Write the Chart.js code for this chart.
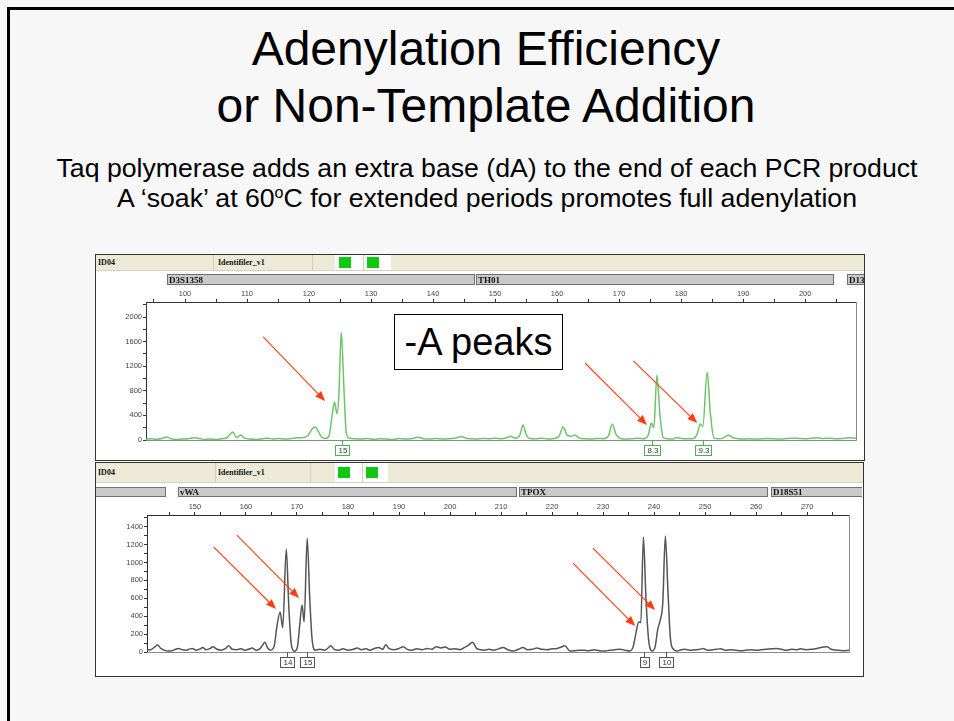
<!DOCTYPE html>
<html>
<head>
<meta charset="utf-8">
<script src="https://cdn.jsdelivr.net/npm/chart.js@4.4.1/dist/chart.umd.min.js"></script>
<style>
  html, body { margin: 0; padding: 0; }
  body { width: 954px; height: 721px; overflow: hidden; background: #f7f7f7; position: relative;
         font-family: "Liberation Sans", Arial, sans-serif; }
  .abs { position: absolute; }
  #frame { left: 7px; top: 7px; width: 1000px; height: 800px; border-left: 3px solid #000; border-top: 3px solid #000; }
  #title { left: 0; width: 972px; top: 20px; text-align: center; font-size: 48px; line-height: 57px; color: #000; }
  #sub { left: 0; width: 974px; top: 153px; text-align: center; font-size: 26.67px; line-height: 30px; color: #000; }
  #sub sup { font-size: 16px; vertical-align: 9px; line-height: 0; }
  .panel { background: #fff; border: 1px solid #333; box-sizing: border-box; }
  .hdr { background: #edebd7; border-bottom: 1px solid #d6d3bd; }
  .cell { position: absolute; top: 0; bottom: 0; border-left: 1px solid #d2cfb8; }
  .hdr .txt { position: absolute; top: 0; bottom: 0; font: bold 8px "Liberation Serif", serif; color: #111; display: flex; align-items: center; }
  .wcell { position: absolute; top: 0; bottom: 0; background: #fff; }
  .sq { position: absolute; background: #10c810; width: 12px; height: 11px; }
  canvas { position: absolute; }
  #apeaks { left: 394px; top: 314px; width: 169px; height: 56px; box-sizing: border-box; border: 1px solid #000;
            background: #fff; font-size: 38px; line-height: 54px; text-align: center; color: #000; }
</style>
</head>
<body>
<div id="frame" class="abs"></div>
<div id="title" class="abs">Adenylation Efficiency<br>or Non-Template Addition</div>
<div id="sub" class="abs">Taq polymerase adds an extra base (dA) to the end of each PCR product<br>A ‘soak’ at 60<sup>o</sup>C for extended periods promotes full adenylation</div>

<div class="abs panel" style="left:95px;top:254px;width:770px;height:207px;"></div>
<div class="abs hdr" style="left:96px;top:255px;width:768px;height:15px;">
  <div class="txt" style="left:2px;">ID04</div>
  <div class="cell" style="left:117px;"></div>
  <div class="txt" style="left:122px;">Identifiler_v1</div>
  <div class="cell" style="left:216px;"></div>
  <div class="wcell" style="left:239px;width:56px;"></div>
  <div class="cell" style="left:267px;"></div>
  <div class="sq" style="left:243px;top:2px;"></div>
  <div class="sq" style="left:271px;top:2px;"></div>
</div>

<div class="abs panel" style="left:95px;top:462px;width:769px;height:215px;"></div>
<div class="abs hdr" style="left:96px;top:463px;width:767px;height:19px;">
  <div class="txt" style="left:2px;">ID04</div>
  <div class="cell" style="left:119px;"></div>
  <div class="txt" style="left:122px;">Identifiler_v1</div>
  <div class="cell" style="left:214px;"></div>
  <div class="wcell" style="left:239px;width:53px;"></div>
  <div class="cell" style="left:266px;"></div>
  <div class="sq" style="left:242px;top:4px;"></div>
  <div class="sq" style="left:270px;top:4px;"></div>
</div>

<canvas id="topChart" style="left:96px;top:271px;" width="768" height="189"></canvas>
<canvas id="botChart" style="left:96px;top:484px;" width="766" height="192"></canvas>
<div id="apeaks" class="abs">-A peaks</div>

<script>
// ---- top panel (green dye): D3S1358 / TH01 ----
const topSizes = [93.7, 94.5, 95.5, 96.3, 97.0, 97.7, 98.5, 99.5, 100.5, 101.5, 102.3, 103.2, 104.0, 105.0, 106.0, 106.8,
  107.7, 108.3, 109.0, 109.6, 110.5, 111.5, 112.5, 113.3, 114.2, 115.0, 116.0, 117.0, 118.0, 119.0, 119.8, 120.5,
  121.0, 121.5, 122.0, 122.6, 123.2, 123.7, 124.1, 124.5, 124.8, 125.2, 125.6, 126.0, 126.5, 127.3, 128.3, 129.5,
  130.5, 131.5, 132.5, 133.5, 134.5, 135.5, 136.5, 137.6, 138.5, 139.5, 140.5, 141.5, 142.5, 143.5, 144.5, 145.3,
  146.2, 147.0, 148.0, 149.0, 150.0, 151.0, 152.0, 152.5, 153.2, 154.0, 154.5, 155.0, 155.6, 156.5, 157.5, 158.5,
  159.5, 160.3, 161.0, 161.6, 162.3, 162.9, 163.6, 164.5, 165.5, 166.5, 167.5, 168.3, 168.9, 169.5, 170.2, 171.0,
  172.0, 173.0, 174.0, 174.7, 175.2, 175.6, 176.1, 176.6, 177.1, 177.8, 178.6, 179.3, 180.0, 181.0, 182.0, 182.6,
  183.1, 183.5, 184.2, 184.7, 185.3, 186.0, 186.8, 187.6, 188.3, 189.0, 190.0, 191.0, 192.0, 193.0, 194.0, 195.0,
  196.0, 197.0, 198.0, 199.0, 200.0, 201.0, 202.0, 203.0, 204.0, 205.0, 206.0, 207.0, 208.2];
const topRfu = [15, 20, 10, 25, 50, 20, 10, 15, 20, 35, 25, 10, 15, 10, 20, 40,
  130, 40, 80, 30, 15, 10, 20, 30, 15, 25, 15, 20, 35, 40, 70, 180,
  210, 140, 50, 25, 60, 380, 618, 430, 700, 1756, 900, 120, 30, 20, 15, 25,
  10, 20, 15, 10, 25, 15, 20, 45, 20, 15, 25, 15, 20, 30, 55, 30,
  20, 15, 25, 20, 30, 20, 40, 60, 30, 80, 245, 90, 25, 20, 30, 15,
  25, 60, 210, 80, 60, 80, 30, 20, 15, 25, 20, 70, 260, 90, 25, 15,
  20, 30, 20, 80, 275, 200, 1057, 400, 40, 20, 15, 40, 25, 20, 25, 100,
  260, 220, 1106, 450, 30, 20, 30, 80, 40, 25, 15, 20, 15, 20, 25, 20,
  15, 25, 30, 25, 20, 30, 35, 25, 30, 20, 25, 35, 30];
const topXLabels = [100, 110, 120, 130, 140, 150, 160, 170, 180, 190, 200];
const topYLabels = [0, 400, 800, 1200, 1600, 2000];
const topLoci = ['D3S1358', 'TH01', 'D13S317'];
const topLociStart = [97.1, 146.9, 206.7];
const topLociEnd = [146.8, 204.7, 240.0];
const topCallSize = [125.3, 175.3, 183.6];
const topCallText = ['15', '8.3', '9.3'];
const topArrowFrom = [[112.6, 1675], [164.5, 1252], [172.3, 1285]];
const topArrowTo = [[122.6, 634], [174.5, 244], [182.6, 276]];

// ---- bottom panel (black dye): vWA / TPOX ----
const botSizes = [140.6, 141.5, 142.2, 142.7, 143.3, 144.0, 144.6, 145.5, 146.2, 146.8, 147.5, 148.3, 149.0, 149.5,
  150.2, 151.0, 151.5, 152.2, 153.0, 153.5, 154.2, 155.0, 156.0, 156.6, 157.3, 158.2, 159.0, 159.8, 160.5, 161.2,
  162.0, 162.8, 163.3, 163.7, 164.2, 164.8, 165.5, 166.1, 166.7, 167.2, 167.9, 168.4, 168.9, 169.5, 170.1, 170.5,
  171.0, 171.4, 172.0, 172.5, 173.0, 173.6, 174.5, 175.4, 176.2, 176.6, 177.3, 178.2, 179.0, 180.0, 181.0, 181.8,
  182.6, 183.5, 184.3, 185.2, 186.0, 186.8, 187.4, 188.0, 189.0, 190.0, 190.8, 191.6, 192.5, 193.5, 194.5, 195.5,
  196.4, 197.3, 198.2, 199.0, 200.0, 201.0, 202.0, 202.8, 203.5, 204.4, 205.2, 206.0, 206.8, 207.6, 208.5, 209.5,
  210.4, 211.3, 212.4, 213.4, 214.3, 215.2, 216.2, 217.0, 218.0, 219.0, 220.0, 221.0, 221.6, 222.5, 223.5, 224.5,
  225.3, 226.2, 227.2, 228.2, 229.2, 230.2, 231.3, 232.3, 233.3, 234.3, 235.2, 235.9, 236.4, 237.0, 237.4, 237.9,
  238.4, 238.9, 239.6, 240.2, 240.7, 241.2, 241.7, 242.2, 242.7, 243.2, 243.8, 244.5, 245.3, 246.0, 247.0, 248.0,
  249.0, 249.6, 250.5, 251.5, 252.3, 253.0, 254.0, 255.0, 256.0, 257.0, 258.0, 259.0, 260.0, 261.0, 262.0, 263.0,
  264.0, 265.0, 266.0, 267.0, 268.0, 268.7, 269.8, 271.0, 272.0, 273.2, 273.9, 274.7, 275.9, 277.0, 278.2];
const botRfu = [20, 30, 60, 78, 40, 20, 10, 15, 30, 40, 25, 20, 35, 40,
  20, 35, 50, 25, 40, 60, 35, 20, 40, 70, 30, 25, 35, 20, 30, 45,
  20, 40, 80, 110, 50, 20, 60, 300, 447, 270, 1151, 500, 80, 8, 60, 280,
  525, 335, 1274, 600, 120, 20, 30, 20, 50, 70, 30, 20, 35, 20, 30, 45,
  25, 35, 20, 40, 50, 30, 80, 40, 25, 40, 60, 30, 20, 35, 25, 40,
  30, 60, 45, 55, 30, 35, 25, 50, 70, 110, 40, 25, 20, 30, 20, 35,
  50, 25, 10, 30, 50, 25, 30, 45, 30, 25, 35, 40, 50, 70, 10, 15,
  20, 20, 15, 25, 15, 10, 20, 25, 30, 20, 10, 60, 200, 335, 330, 1285,
  600, 150, 10, 60, 250, 357, 550, 1296, 700, 150, 30, 10, 25, 30, 20, 25,
  30, 40, 20, 25, 30, 35, 20, 25, 20, 15, 20, 25, 20, 25, 30, 35,
  40, 30, 20, 30, 25, 35, 25, 30, 40, 55, 60, 30, 20, 15, 20];
const botXLabels = [150, 160, 170, 180, 190, 200, 210, 220, 230, 240, 250, 260, 270];
const botYLabels = [0, 200, 400, 600, 800, 1000, 1200, 1400];
const botLoci = ['D8S1179', 'vWA', 'TPOX', 'D18S51'];
const botLociStart = [110.0, 146.7, 213.5, 263.0];
const botLociEnd = [144.3, 213.2, 262.4, 300.0];
const botCallSize = [168.0, 172.0, 238.0, 242.4];
const botCallText = ['14', '15', '9', '10'];
const botArrowFrom = [[153.7, 1173], [158.2, 1307], [224.1, 994], [228.0, 1162]];
const botArrowTo = [[165.9, 480], [170.4, 603], [236.3, 290], [240.2, 469]];

// draws locus bars above the axis, allele call boxes, plot frame and arrows
function makeDecor(d) {
  return {
    id: 'decor',
    beforeDraw(chart) {
      const ctx = chart.ctx, x = chart.scales.x;
      ctx.save();
      d.loci.forEach(function(name, i) {
        const a = Math.round(x.getPixelForValue(d.lociStart[i]));
        const b = Math.round(x.getPixelForValue(d.lociEnd[i]));
        ctx.fillStyle = '#c9c9c9';
        ctx.fillRect(a, d.barTop, b - a, d.barH);
        ctx.strokeStyle = '#707070';
        ctx.lineWidth = 1;
        ctx.strokeRect(a + 0.5, d.barTop + 0.5, b - a - 1, d.barH - 1);
        ctx.fillStyle = '#111';
        ctx.font = 'bold 9px "Liberation Serif", serif';
        ctx.textBaseline = 'middle';
        ctx.fillText(name, a + 2, d.barTop + d.barH / 2 + 1);
      });
      ctx.restore();
    },
    afterDatasetsDraw(chart) {
      const ctx = chart.ctx, ca = chart.chartArea, x = chart.scales.x, y = chart.scales.y;
      ctx.save();
      ctx.strokeStyle = '#8a8a8a';
      ctx.lineWidth = 1;
      ctx.beginPath();
      ctx.moveTo(ca.right + 0.5, ca.top);
      ctx.lineTo(ca.right + 0.5, ca.bottom + 0.5);
      ctx.lineTo(ca.left, ca.bottom + 0.5);
      ctx.stroke();

      // allele call boxes
      ctx.font = '8px "Liberation Sans", sans-serif';
      ctx.textAlign = 'center';
      ctx.textBaseline = 'middle';
      d.callSize.forEach(function(s, i) {
        const px = Math.round(x.getPixelForValue(s));
        const w = Math.round(ctx.measureText(d.callText[i]).width) + 5;
        const top = ca.bottom + 5;
        ctx.strokeStyle = d.boxColor;
        ctx.beginPath();
        ctx.moveTo(px + 0.5, ca.bottom);
        ctx.lineTo(px + 0.5, top);
        ctx.stroke();
        ctx.fillStyle = '#fff';
        ctx.fillRect(px - w / 2, top, w, 11);
        ctx.strokeRect(Math.round(px - w / 2) + 0.5, top + 0.5, w, 10);
        ctx.fillStyle = '#333';
        ctx.fillText(d.callText[i], px + 1, top + 6);
      });

      // red arrows pointing at the -A shoulders
      ctx.strokeStyle = '#ff3b10';
      ctx.fillStyle = '#ff3b10';
      ctx.lineWidth = 1.1;
      d.arrowFrom.forEach(function(f, i) {
        const t = d.arrowTo[i];
        const x0 = x.getPixelForValue(f[0]), y0 = y.getPixelForValue(f[1]);
        const x1 = x.getPixelForValue(t[0]), y1 = y.getPixelForValue(t[1]);
        const ang = Math.atan2(y1 - y0, x1 - x0);
        const hl = 10, hw = 4;
        const bx = x1 - hl * Math.cos(ang), by = y1 - hl * Math.sin(ang);
        ctx.beginPath();
        ctx.moveTo(x0, y0);
        ctx.lineTo(bx, by);
        ctx.stroke();
        ctx.beginPath();
        ctx.moveTo(x1, y1);
        ctx.lineTo(bx + hw * Math.sin(ang), by - hw * Math.cos(ang));
        ctx.lineTo(bx - hw * Math.sin(ang), by + hw * Math.cos(ang));
        ctx.closePath();
        ctx.fill();
      });
      ctx.restore();
    }
  };
}

function traceChart(id, o) {
  const points = o.sizes.map(function(s, i) { return { x: s, y: o.rfu[i] }; });
  const tickFont = { family: '"Liberation Sans", sans-serif', size: 7.5 };
  return new Chart(document.getElementById(id), {
    type: 'line',
    data: {
      datasets: [{
        data: points,
        borderColor: o.color,
        borderWidth: 1.5,
        pointRadius: 0,
        cubicInterpolationMode: 'monotone',
        fill: false
      }]
    },
    options: {
      responsive: false,
      animation: false,
      layout: { padding: { left: 0, top: 0, right: o.padRight, bottom: o.padBottom } },
      plugins: { legend: { display: false }, tooltip: { enabled: false } },
      scales: {
        x: {
          type: 'linear',
          position: 'top',
          min: o.xMin, max: o.xMax,
          afterFit: function(s) { s.height = 31; },
          border: { display: true, color: '#333', width: 1 },
          grid: { drawOnChartArea: false, tickLength: 3, color: '#333' },
          ticks: {
            stepSize: 5, includeBounds: false, autoSkip: false, maxRotation: 0, padding: 1,
            color: '#444', font: tickFont,
            callback: function(v) { return o.xLabels.includes(v) ? String(v) : ''; }
          }
        },
        y: {
          type: 'linear',
          min: 0, max: o.yMax,
          afterFit: function(s) { s.width = o.yWidth; },
          border: { display: true, color: '#333', width: 1 },
          grid: { drawOnChartArea: false, tickLength: 3, color: '#333' },
          ticks: {
            stepSize: o.yStep, includeBounds: false, autoSkip: false, padding: 1,
            color: '#444', font: tickFont,
            callback: function(v) { return o.yLabels.includes(v) ? String(v) : ''; }
          }
        }
      }
    },
    plugins: [makeDecor({
      loci: o.loci, lociStart: o.lociStart, lociEnd: o.lociEnd, barTop: 3, barH: o.barH,
      callSize: o.callSize, callText: o.callText, boxColor: o.boxColor,
      arrowFrom: o.arrowFrom, arrowTo: o.arrowTo
    })]
  });
}

traceChart('topChart', {
  sizes: topSizes, rfu: topRfu, color: '#6cc46c',
  xMin: 93.71, xMax: 208.2, yMax: 2244, yStep: 200,
  xLabels: topXLabels, yLabels: topYLabels, yWidth: 50, padRight: 8, padBottom: 20,
  loci: topLoci, lociStart: topLociStart, lociEnd: topLociEnd, barH: 11,
  callSize: topCallSize, callText: topCallText, boxColor: '#4fb04f',
  arrowFrom: topArrowFrom, arrowTo: topArrowTo
});

traceChart('botChart', {
  sizes: botSizes, rfu: botRfu, color: '#555',
  xMin: 140.6, xMax: 278.2, yMax: 1531, yStep: 100,
  xLabels: botXLabels, yLabels: botYLabels, yWidth: 51, padRight: 13, padBottom: 24,
  loci: botLoci, lociStart: botLociStart, lociEnd: botLociEnd, barH: 10,
  callSize: botCallSize, callText: botCallText, boxColor: '#555',
  arrowFrom: botArrowFrom, arrowTo: botArrowTo
});
</script>
</body>
</html>
